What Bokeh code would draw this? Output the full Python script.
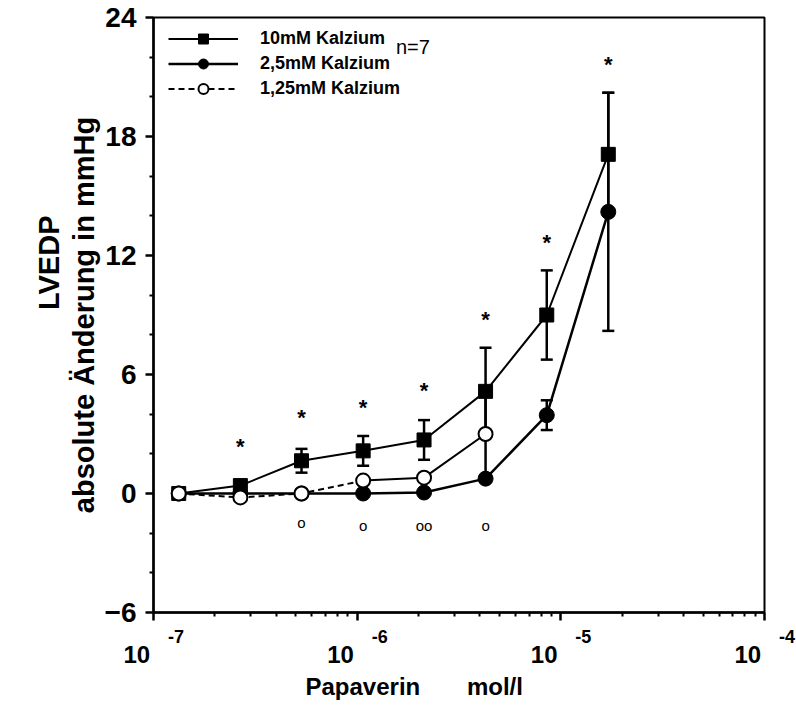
from bokeh.plotting import figure
from bokeh.models import (FixedTicker, CustomJSTickFormatter, Whisker, TeeHead, LogAxis,
                          ColumnDataSource, Legend, LegendItem, Title, Label)
from bokeh.core.properties import value
from bokeh.embed import file_html
from bokeh.resources import INLINE

# ---- data ----
conc = [1.33e-7, 2.67e-7, 5.33e-7, 1.07e-6, 2.13e-6, 4.27e-6, 8.53e-6, 1.71e-5]
ca10 = [0.0, 0.4, 1.65, 2.15, 2.7, 5.15, 9.0, 17.1]
ca10_err = [0, 0, 0.6, 0.75, 1.0, 2.2, 2.25, 3.1]
ca25 = [0.0, 0.0, 0.0, 0.0, 0.05, 0.75, 3.95, 14.2]
ca25_err = [0, 0, 0, 0, 0, 0, 0.75, 6.0]
ca125 = [0.0, -0.2, 0.0, 0.65, 0.8, 3.0]
ca125_err = [0, 0, 0, 0, 0, 2.2]
star_y = [2.6, 4.1, 4.6, 5.45, 9.05, 12.9, 21.9]          # '*' above conc[1:]
low_text = ["o", "o", "oo", "o"]                          # markers below conc[2:6]
low_y = [-1.45, -1.6, -1.6, -1.6]
y_ticks = [-6, 0, 6, 12, 18, 24]
y_minor = [-4, -2, 2, 4, 8, 10, 14, 16, 20, 22]
x_ticks = [1e-7, 1e-6, 1e-5, 1e-4]
labels = ["10mM Kalzium", "2,5mM Kalzium", "1,25mM Kalzium"]

FONT = "Liberation Sans"
NB = "\u00a0"

p = figure(width=796, height=710, x_axis_type="log", x_range=(1e-7, 1e-4),
           y_range=(-6, 24), output_backend="svg", toolbar_location=None,
           min_border_left=153, min_border_right=32, min_border_top=17,
           min_border_bottom=98)
p.background_fill_color = "white"
p.border_fill_color = "white"
p.xgrid.visible = False
p.ygrid.visible = False
p.outline_line_color = "black"
p.outline_line_width = 2

# axes
xtk = FixedTicker(ticks=x_ticks,
                  minor_ticks=[m * t for t in x_ticks[:-1] for m in range(2, 10)])
p.yaxis.ticker = FixedTicker(ticks=y_ticks, minor_ticks=y_minor)
p.xaxis.ticker = xtk
p.xaxis.formatter = CustomJSTickFormatter(code="return '10' + '%s';" % (NB * 5))
for ax in (p.xaxis[0], p.yaxis[0]):
    ax.axis_line_width = 2.5
    ax.major_tick_line_width = 2.5
    ax.minor_tick_line_width = 2
    ax.major_tick_in = 0
    ax.major_tick_out = 8
    ax.minor_tick_in = 0
    ax.minor_tick_out = 4
    ax.major_label_text_font = FONT
    ax.major_label_text_font_style = "bold"
    ax.major_label_text_color = "black"
p.yaxis.major_label_text_font_size = "28px"
p.xaxis.major_label_text_font_size = "24px"
p.yaxis.major_label_standoff = 9
p.xaxis.major_label_standoff = 20
p.yaxis.axis_label = "absolute \u00c4nderung in mmHg"
p.yaxis.axis_label_text_font = FONT
p.yaxis.axis_label_text_font_style = "bold"
p.yaxis.axis_label_text_font_size = "29px"
p.yaxis.axis_label_text_color = "black"
p.yaxis.axis_label_standoff = 2

# exponents of the decade labels
ax2 = LogAxis(ticker=xtk, axis_line_color=None, major_tick_line_color=None,
              minor_tick_line_color=None, major_label_standoff=-50,
              major_label_text_font=FONT, major_label_text_font_style="bold",
              major_label_text_font_size="18px", major_label_text_color="black",
              formatter=CustomJSTickFormatter(
                  code="return '%s' + String(Math.round(Math.log10(tick)));" % (NB * 9)))
p.add_layout(ax2, "below")

t1 = Title(text="LVEDP", align="right", offset=198, text_font=FONT,
           text_font_style="bold", text_font_size="29px", standoff=0,
           text_color="black")
p.add_layout(t1, "left")
t2 = Title(text="Papaverin" + NB * 7 + "mol/l", align="left", offset=152,
           text_font=FONT, text_font_style="bold", text_font_size="24px", standoff=0,
           text_color="black")
p.add_layout(t2, "below")

# error bars
def whisk(xs, ys, es):
    idx = [i for i, e in enumerate(es) if e > 0]
    src = ColumnDataSource(dict(x=[xs[i] for i in idx],
                                upper=[ys[i] + es[i] for i in idx],
                                lower=[ys[i] - es[i] for i in idx]))
    w = Whisker(base="x", upper="upper", lower="lower", source=src,
                dimension="height", line_width=2.5, line_color="black",
                upper_head=TeeHead(size=12, line_width=2.5, line_color="black"),
                lower_head=TeeHead(size=12, line_width=2.5, line_color="black"))
    p.add_layout(w)

whisk(conc, ca10, ca10_err)
whisk(conc, ca25, ca25_err)
whisk(conc[:len(ca125)], ca125, ca125_err)

# lines
l10 = p.line(conc, ca10, line_color="black", line_width=2)
l25 = p.line(conc, ca25, line_color="black", line_width=2.5)
l125a = p.line(conc[:4], ca125[:4], line_color="black", line_width=2, line_dash="6 4")
l125b = p.line(conc[3:len(ca125)], ca125[3:], line_color="black", line_width=2)

# markers
m10 = p.scatter(conc, ca10, marker="square", size=14, fill_color="black", line_color="black")
m25 = p.scatter(conc, ca25, marker="circle", size=15, fill_color="black", line_color="black")
m125 = p.scatter(conc[:len(ca125)], ca125, marker="circle", size=14, fill_color="white",
                 line_color="black", line_width=2)

# significance marks
p.text(x=conc[1:], y=star_y, text=["*"] * len(star_y), text_font=value(FONT),
       text_font_style="bold", text_font_size="22px", text_align="center",
       text_baseline="middle", y_offset=5, text_color="black")
p.text(x=conc[2:6], y=low_y, text=low_text, text_font=value(FONT),
       text_font_size="15px", text_align="center", text_baseline="middle",
       text_color="black")

legend = Legend(items=[LegendItem(label=labels[0], renderers=[l10, m10]),
                       LegendItem(label=labels[1], renderers=[l25, m25]),
                       LegendItem(label=labels[2], renderers=[l125a, m125])],
                location=(5, 501), margin=0, padding=10, spacing=0,
                glyph_width=70, glyph_height=25, label_height=20, label_standoff=22,
                label_text_font=FONT, label_text_font_style="bold",
                label_text_font_size="18px", label_text_color="black",
                border_line_alpha=0, background_fill_alpha=0)
p.add_layout(legend)
p.add_layout(Label(x=1.55e-6, y=22.53, text="n=7", text_font=FONT,
                   text_font_size="20px", text_baseline="alphabetic",
                   text_color="black"))

open("out.html", "w").write(file_html(p, INLINE))
